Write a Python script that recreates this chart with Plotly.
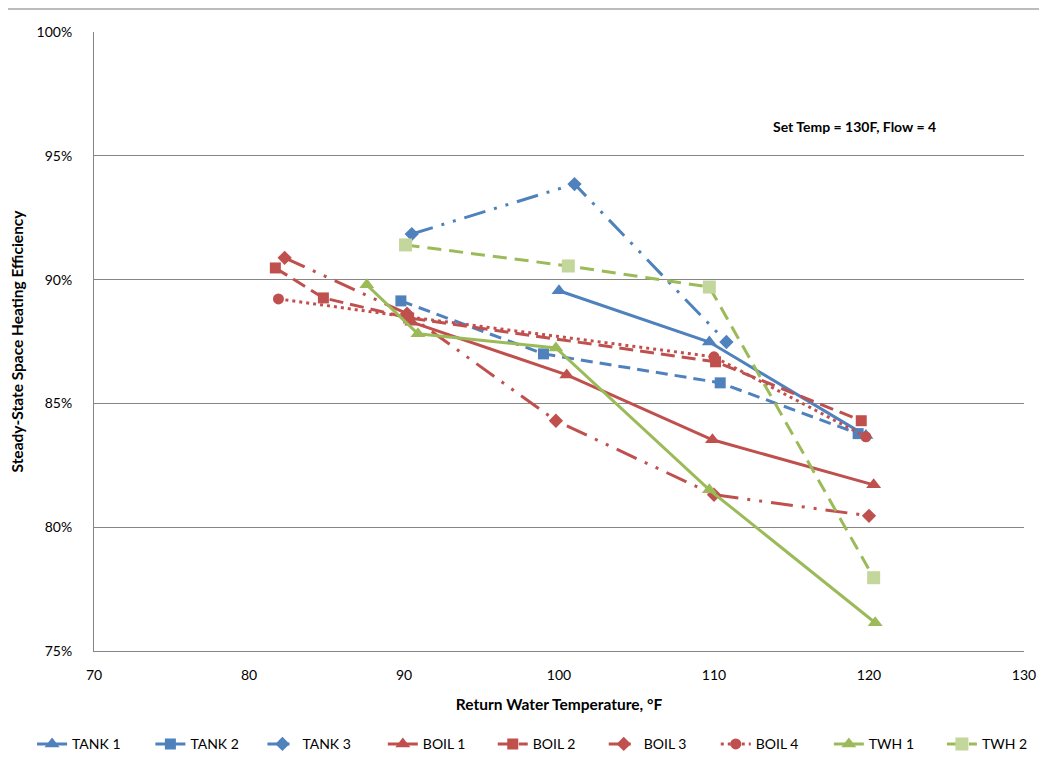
'''
Steady-state space heating efficiency versus return water temperature.
'''

import plotly.graph_objects as go

series_names = ['TANK 1', 'TANK 2', 'TANK 3', 'BOIL 1', 'BOIL 2',
                'BOIL 3', 'BOIL 4', 'TWH 1', 'TWH 2']

tank1_temp = [100.0, 109.7, 119.8]
tank1_eff = [0.8955, 0.8748, 0.8370]

tank2_temp = [89.8, 99.0, 110.4, 119.3]
tank2_eff = [0.8914, 0.8700, 0.8583, 0.8378]

tank3_temp = [90.5, 101.0, 110.8]
tank3_eff = [0.9184, 0.9386, 0.8748]

boil1_temp = [90.5, 100.5, 109.9, 120.3]
boil1_eff = [0.8828, 0.8615, 0.8353, 0.8171]

boil2_temp = [81.7, 84.8, 90.3, 110.1, 119.5]
boil2_eff = [0.9047, 0.8926, 0.8845, 0.8668, 0.8430]

boil3_temp = [82.3, 90.2, 99.8, 110.0, 120.0]
boil3_eff = [0.9088, 0.8862, 0.8430, 0.8131, 0.8046]

boil4_temp = [81.9, 90.2, 110.0, 119.8]
boil4_eff = [0.8922, 0.8850, 0.8688, 0.8365]

twh1_temp = [87.6, 90.9, 99.8, 109.7, 120.4]
twh1_eff = [0.8979, 0.8781, 0.8724, 0.8151, 0.7614]

twh2_temp = [90.1, 100.6, 109.7, 120.3]
twh2_eff = [0.9140, 0.9055, 0.8970, 0.7796]

x_ticks = [70, 80, 90, 100, 110, 120, 130]
y_ticks = [0.75, 0.80, 0.85, 0.90, 0.95, 1.00]

BLUE = '#4F81BD'
RED = '#C0504D'
GREEN = '#9BBB59'
LIGHT_GREEN = '#C3D69B'
DASHDOTDOT = '22px,9px,3px,9px,3px,9px'

FONT = 'Lato'

# one legend box per series so the row is spaced like the original
legend_left = [0.023, 0.136, 0.243, 0.358, 0.463, 0.569, 0.676, 0.784, 0.892]


def add_series(fig, name, xs, ys, color, dash, symbol, marker_color=None,
               size=11):
    idx = len(fig.data)
    fig.add_trace(go.Scatter(
        x=xs, y=ys, name=name, mode='lines+markers',
        line=dict(color=color, width=3, dash=dash),
        marker=dict(symbol=symbol, size=size,
                    color=marker_color or color),
        legend='legend' if idx == 0 else 'legend%d' % (idx + 1),
    ))


def main():
    fig = go.Figure()
    add_series(fig, series_names[0], tank1_temp, tank1_eff, BLUE,
               'solid', 'triangle-up', size=13)
    add_series(fig, series_names[1], tank2_temp, tank2_eff, BLUE,
               '12px,7px', 'square')
    add_series(fig, series_names[2], tank3_temp, tank3_eff, BLUE,
               DASHDOTDOT, 'diamond')
    add_series(fig, series_names[3], boil1_temp, boil1_eff, RED,
               'solid', 'triangle-up', size=13)
    add_series(fig, series_names[4], boil2_temp, boil2_eff, RED,
               '14px,7px', 'square')
    add_series(fig, series_names[5], boil3_temp, boil3_eff, RED,
               DASHDOTDOT, 'diamond')
    add_series(fig, series_names[6], boil4_temp, boil4_eff, RED,
               '3px,4px', 'circle')
    add_series(fig, series_names[7], twh1_temp, twh1_eff, GREEN,
               'solid', 'triangle-up', size=13)
    add_series(fig, series_names[8], twh2_temp, twh2_eff, GREEN,
               '14px,8px', 'square', marker_color=LIGHT_GREEN, size=13)

    fig.add_annotation(
        text='<b>Set Temp = 130F, Flow = 4</b>',
        xref='paper', yref='paper', x=0.818, y=0.848,
        xanchor='center', yanchor='middle',
        showarrow=False, font=dict(family=FONT, size=14, color='black'),
    )

    # frame of the chart area, only top and left edges visible
    fig.add_shape(type='line', xref='paper', yref='paper',
                  x0=-0.0946, x1=1.05, y0=1.037, y1=1.037,
                  line=dict(color='#A6A6A6', width=1.5))
    fig.add_shape(type='line', xref='paper', yref='paper',
                  x0=-0.0946, x1=-0.0946, y0=1.037, y1=-0.22,
                  line=dict(color='#A6A6A6', width=1.5))

    legends = {}
    for i, left in enumerate(legend_left):
        key = 'legend' if i == 0 else 'legend%d' % (i + 1)
        legends[key] = dict(
            orientation='h', xref='container', yref='container',
            x=left, y=0.040, xanchor='left', yanchor='middle',
            font=dict(family=FONT, size=14, color='black'),
            itemwidth=30, bgcolor='rgba(0,0,0,0)',
        )

    fig.update_layout(
        width=1047, height=767,
        margin=dict(l=86, r=31, t=24, b=124, autoexpand=False),
        paper_bgcolor='white', plot_bgcolor='white',
        font=dict(family=FONT, size=14, color='black'),
        showlegend=True,
        xaxis=dict(
            range=[70, 130], tickvals=x_ticks, showgrid=False,
            showline=True, linecolor='#868686', linewidth=1,
            ticks='', ticklabelstandoff=11, zeroline=False,
            title=dict(text='<b>Return Water Temperature, °F</b>',
                       font=dict(family=FONT, size=15.5), standoff=17),
        ),
        yaxis=dict(
            range=[0.75, 1.0], tickvals=y_ticks, tickformat='.0%',
            showgrid=True, gridcolor='#868686', gridwidth=1,
            showline=True, linecolor='#868686', linewidth=1,
            ticks='', ticklabelstandoff=18, zeroline=False,
            title=dict(text='<b>Steady-State Space Heating Efficiency</b>',
                       font=dict(family=FONT, size=15.5), standoff=10),
        ),
        **legends,
    )
    fig.write_html('out.html')


if __name__ == '__main__':
    main()
